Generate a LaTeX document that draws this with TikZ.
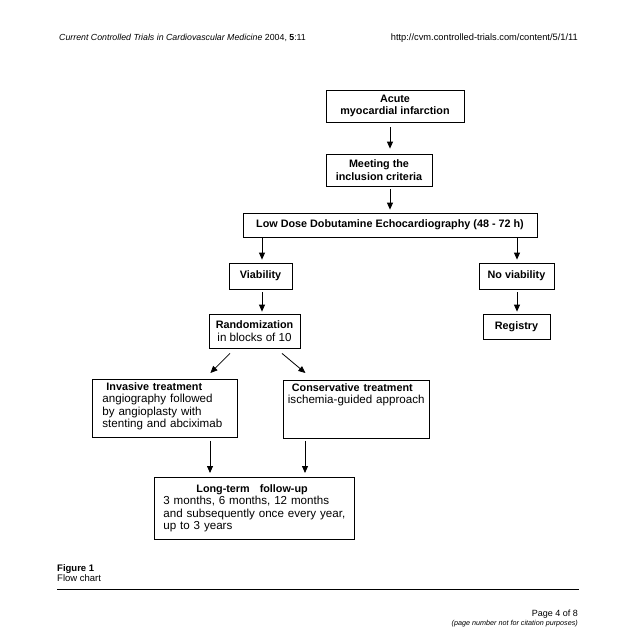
\documentclass[tikz,border=0pt]{standalone}
\usepackage{fontspec}
\setmainfont{Liberation Sans}
\usetikzlibrary{calc,arrows.meta}

\newcommand{\hd}[1]{{\bfseries\fontsize{10.8}{12.5}\selectfont #1}}

\begin{document}
\begin{tikzpicture}[x=1pt,y=-1pt,
  box/.style={draw,line width=0.8pt,inner sep=0pt,align=center,font=\fontsize{11.6}{12.5}\selectfont},
  tbox/.style={box,align=left,anchor=north west,inner ysep=3pt,text height=8pt,text depth=44pt},
  arr/.style={-{Triangle[length=7pt,width=6pt]},line width=0.8pt},
  small/.style={inner sep=0pt,font=\fontsize{8.8}{10}\selectfont}]
  \useasboundingbox (0,0) rectangle (640,640);

  \node[small,anchor=west] (hdr) at (59,38) {\textit{Current Controlled Trials in Cardiovascular Medicine} 2004, \textbf{5}:11};
  \node[small,anchor=east,font=\fontsize{9.3}{10}\selectfont] (url) at (578,38) {http://cvm.controlled-trials.com/content/5/1/11};

  \node[box,minimum width=138,minimum height=32] (acute) at (395,106) {\hd{Acute}\\\hd{myocardial infarction}};
  \node[box,minimum width=106,minimum height=32] (meeting) at (379,170) {\hd{Meeting the}\\\hd{inclusion criteria}};
  \node[box,minimum width=294,minimum height=24] (ldde) at (390,225) {\hd{Low Dose Dobutamine Echocardiography (48 - 72 h)}};
  \node[box,minimum width=63,minimum height=26] (viab) at (260.5,276) {\hd{Viability}};
  \node[box,minimum width=75,minimum height=26] (noviab) at (516.5,276) {\hd{No viability}};
  \node[box,minimum width=91,minimum height=34] (random) at (254.5,331) {\hd{Randomization}\\in blocks of 10};
  \node[box,minimum width=67,minimum height=25] (registry) at (516.5,326.5) {\hd{Registry}};
  \node[tbox,inner xsep=10pt,text width=125pt] (invasive) at (92,379)
    {\hspace*{4pt}\hd{Invasive treatment}\\angiography followed\\by angioplasty with\\stenting and abciximab};
  \node[tbox,inner xsep=4.5pt,text width=137pt] (conserv) at (283,380)
    {\hspace*{4pt}\hd{Conservative treatment}\\ischemia-guided approach};
  \node[tbox,inner xsep=9pt,text width=182pt,text height=12pt] (followup) at (154,477)
    {\hspace*{33pt}\hd{Long-term\hspace{10pt}follow-up}\\3 months, 6 months, 12 months\\and subsequently once every year,\\up to 3 years};

  \coordinate (ax) at (390,0);
  \coordinate (vx) at (262,0);
  \coordinate (nx) at (517,0);
  \coordinate (ix) at (210,0);
  \coordinate (cx) at (305,0);
  \draw[arr] ($(acute.south -| ax)+(0,5)$) -- ($(meeting.north -| ax)+(0,-5)$);
  \draw[arr] ($(meeting.south -| ax)+(0,3)$) -- ($(ldde.north -| ax)+(0,-3)$);
  \draw[arr] (ldde.south -| vx) -- ($(viab.north -| vx)+(0,-3)$);
  \draw[arr] (ldde.south -| nx) -- ($(noviab.north -| nx)+(0,-3)$);
  \draw[arr] ($(viab.south -| vx)+(0,3)$) -- ($(random.north -| vx)+(0,-2)$);
  \draw[arr] ($(noviab.south -| nx)+(0,3)$) -- ($(registry.north -| nx)+(0,-2)$);
  \draw[arr] ($(random.south)+(-24.5,5)$) -- ($(invasive.north)+(45.5,-6)$);
  \draw[arr] ($(random.south)+(27.5,5)$) -- ($(conserv.north)+(-51,-7)$);
  \draw[arr] ($(invasive.south -| ix)+(0,3)$) -- ($(followup.north -| ix)+(0,-4)$);
  \draw[arr] ($(conserv.south -| cx)+(0,2)$) -- ($(followup.north -| cx)+(0,-4)$);

  \node[small,anchor=west,font=\bfseries\fontsize{9.5}{10}\selectfont] (fig) at (57,569) {Figure 1};
  \node[small,anchor=west,font=\fontsize{9.5}{10}\selectfont] (cap) at (57,578) {Flow chart};
  \coordinate (rl) at (57,589);
  \coordinate (rr) at (579,589);
  \draw[line width=0.8pt] (rl) -- (rr);
  \node[small,anchor=east,font=\fontsize{9}{10}\selectfont] (page) at (578,614.5) {Page 4 of 8};
  \node[small,anchor=east,font=\itshape\fontsize{7.2}{8}\selectfont] (note) at (578,624) {(page number not for citation purposes)};
\end{tikzpicture}
\end{document}
